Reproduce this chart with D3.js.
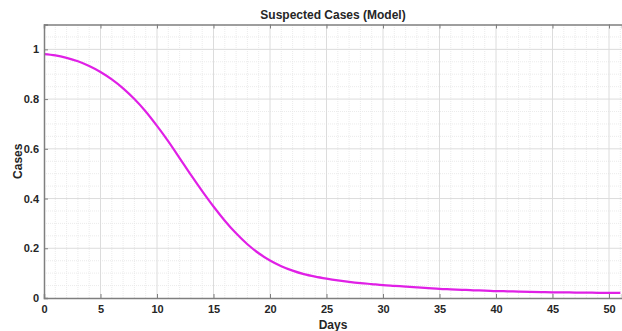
<!DOCTYPE html>
<html>
<head>
<meta charset="utf-8">
<script src="https://cdn.jsdelivr.net/npm/d3@7"></script>
<style>
  body { margin: 0; background: #fff; }
  svg text { font-family: "Liberation Sans", Arial, sans-serif; font-weight: bold; fill: #262626; }
</style>
</head>
<body>
<svg id="chart"></svg>
<script>
const days = d3.range(0, 52);
const cases = [
  0.981, 0.976, 0.966, 0.952, 0.933, 0.909, 0.879, 0.843, 0.80, 0.75,
  0.692, 0.63, 0.563, 0.495, 0.43, 0.368, 0.311, 0.26, 0.216, 0.18,
  0.151, 0.128, 0.11, 0.096, 0.086, 0.078, 0.071, 0.065, 0.06, 0.056,
  0.052, 0.049, 0.046, 0.043, 0.04, 0.037, 0.035, 0.033, 0.031, 0.03,
  0.028, 0.027, 0.026, 0.025, 0.024, 0.023, 0.023, 0.022, 0.022, 0.021,
  0.021, 0.021
];
const xTicks = [0, 5, 10, 15, 20, 25, 30, 35, 40, 45, 50];
const yTicks = [0, 0.2, 0.4, 0.6, 0.8, 1];

const width = 622, height = 331;
const margin = { top: 24.5, right: 0, bottom: 33, left: 44 };

const svg = d3.select("svg#chart").attr("width", width).attr("height", height);

const x = d3.scaleLinear().domain([0, 51.15]).range([margin.left, width - margin.right]);
const y = d3.scaleLinear().domain([0, 1.1]).range([height - margin.bottom, margin.top]);

// minor grid
const grid = svg.append("g");
grid.selectAll("line.mx")
  .data(d3.range(1, 52).filter(d => d % 5 !== 0))
  .join("line")
  .attr("x1", d => x(d)).attr("x2", d => x(d))
  .attr("y1", y(0)).attr("y2", y(1.1))
  .attr("stroke", "#e6e6e6").attr("stroke-width", 0.8)
  .attr("stroke-dasharray", "1,1");
grid.selectAll("line.my")
  .data(d3.range(1, 22).map(d => d * 0.05).filter((d, i) => (i + 1) % 4 !== 0))
  .join("line")
  .attr("x1", x(0)).attr("x2", x(51.15))
  .attr("y1", d => y(d)).attr("y2", d => y(d))
  .attr("stroke", "#e6e6e6").attr("stroke-width", 0.8)
  .attr("stroke-dasharray", "1,1");

// major grid
grid.selectAll("line.gx")
  .data(xTicks.slice(1))
  .join("line")
  .attr("x1", d => x(d)).attr("x2", d => x(d))
  .attr("y1", y(0)).attr("y2", y(1.1))
  .attr("stroke", "#dcdcdc").attr("stroke-width", 1);
grid.selectAll("line.gy")
  .data(yTicks.slice(1))
  .join("line")
  .attr("x1", x(0)).attr("x2", x(51.15))
  .attr("y1", d => y(d)).attr("y2", d => y(d))
  .attr("stroke", "#dcdcdc").attr("stroke-width", 1);

// curve
const line = d3.line()
  .x((d, i) => x(days[i]))
  .y(d => y(d))
  .curve(d3.curveMonotoneX);

svg.append("path")
  .datum(cases)
  .attr("fill", "none")
  .attr("stroke", "#e020e6")
  .attr("stroke-width", 2.2)
  .attr("d", line);

// axes
const axisColor = "#7f7f7f";
const xAxis = svg.append("g")
  .attr("transform", `translate(0,${y(0)})`)
  .call(d3.axisBottom(x).tickValues(xTicks).tickSize(-4).tickPadding(7).tickFormat(d3.format("d")));
const xTop = svg.append("g")
  .attr("transform", `translate(0,${y(1.1)})`)
  .call(d3.axisTop(x).tickValues(xTicks).tickSize(-4).tickFormat(""));
const yAxis = svg.append("g")
  .attr("transform", `translate(${x(0)},0)`)
  .call(d3.axisLeft(y).tickValues(yTicks).tickSize(-4).tickPadding(5).tickFormat(d => d === 0 || d === 1 ? d3.format("d")(d) : d3.format(".1f")(d)));

[xAxis, xTop, yAxis].forEach(g => {
  g.selectAll("path.domain").attr("stroke", axisColor).attr("stroke-width", 1.5);
  g.selectAll(".tick line").attr("stroke", axisColor);
  g.selectAll(".tick text")
    .attr("font-size", 11)
    .attr("font-family", "Liberation Sans, Arial, sans-serif")
    .attr("font-weight", "bold")
    .attr("fill", "#262626");
});

// labels
svg.append("text")
  .attr("x", (x(0) + x(51.15)) / 2)
  .attr("y", 19)
  .attr("text-anchor", "middle")
  .attr("font-size", 12)
  .text("Suspected Cases (Model)");

svg.append("text")
  .attr("x", (x(0) + x(51.15)) / 2)
  .attr("y", 329)
  .attr("text-anchor", "middle")
  .attr("font-size", 12)
  .text("Days");

svg.append("text")
  .attr("transform", `translate(22,${(y(0) + y(1.1)) / 2}) rotate(-90)`)
  .attr("text-anchor", "middle")
  .attr("font-size", 12)
  .text("Cases");
</script>
</body>
</html>
